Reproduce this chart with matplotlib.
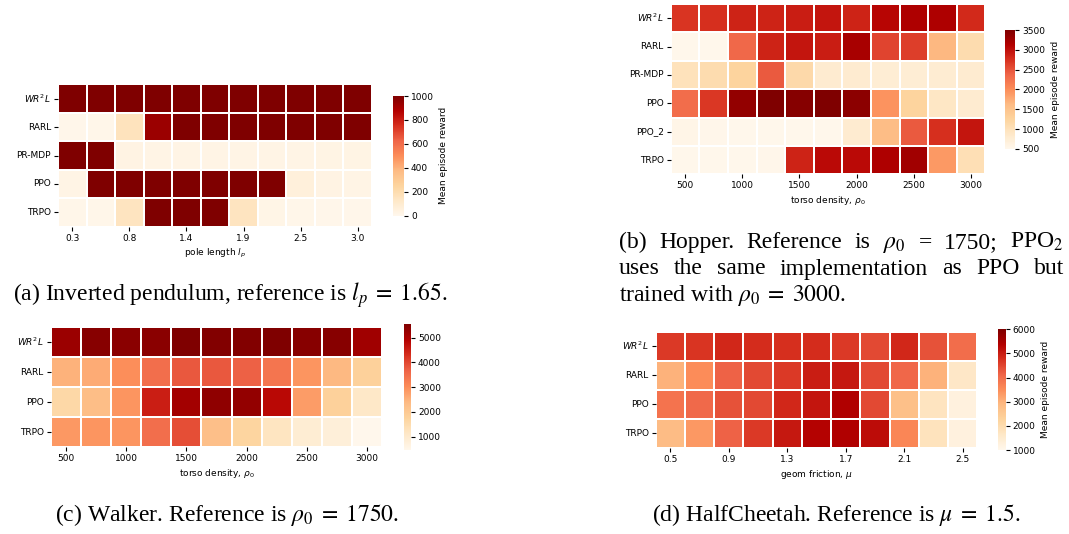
import numpy as np
import matplotlib
matplotlib.use("Agg")
import matplotlib.pyplot as plt
import seaborn as sns

# ---------------- data ----------------
row_labels_a = ["$WR^2L$", "RARL", "PR-MDP", "PPO", "TRPO"]
pole_length_ticks = ["0.3", "0.8", "1.4", "1.9", "2.5", "3.0"]
wr2l_a = [1000, 1000, 1000, 1000, 1000, 1000, 1000, 1000, 1000, 1000, 1000]
rarl_a = [10, 15, 160, 930, 1000, 1000, 1000, 1000, 1000, 1000, 1000]
prmdp_a = [1000, 1000, 35, 25, 25, 25, 25, 25, 25, 30, 30]
ppo_a = [25, 1000, 1000, 1000, 1000, 1000, 1000, 1000, 60, 35, 25]
trpo_a = [15, 15, 150, 1000, 1000, 1000, 150, 20, 15, 10, 10]

row_labels_b = ["$WR^2L$", "RARL", "PR-MDP", "PPO", "PPO_2", "TRPO"]
density_ticks = ["500", "1000", "1500", "2000", "2500", "3000"]
wr2l_b = [2720, 2750, 2850, 2850, 2900, 2950, 2850, 3080, 3150, 3150, 2800]
rarl_b = [520, 520, 2350, 2850, 2950, 2900, 3200, 2600, 2650, 1650, 1100]
prmdp_b = [1000, 1100, 1250, 2450, 1150, 800, 800, 750, 750, 780, 800]
ppo_b = [2300, 2700, 3350, 3500, 3450, 3500, 3400, 1950, 1250, 900, 800]
ppo2_b = [550, 530, 520, 520, 520, 520, 800, 1600, 2450, 2750, 2950]
trpo_b = [520, 520, 520, 530, 2850, 3050, 3050, 3150, 3250, 1900, 1050]

row_labels_c = ["$WR^2L$", "RARL", "PPO", "TRPO"]
wr2l_c = [5200, 5450, 5400, 5400, 5550, 5500, 5500, 5550, 5450, 5450, 5150]
rarl_c = [2500, 2600, 3000, 3500, 3800, 3800, 3700, 3400, 2900, 2400, 1800]
ppo_c = [1600, 2300, 2900, 4500, 5100, 5350, 5300, 4800, 2800, 1800, 1100]
trpo_c = [2850, 2900, 2900, 3500, 3900, 2250, 1700, 1200, 900, 800, 460]

row_labels_d = ["$WR^2L$", "RARL", "PPO", "TRPO"]
friction_ticks = ["0.5", "0.9", "1.3", "1.7", "2.1", "2.5"]
wr2l_d = [4650, 4700, 4850, 4800, 4750, 4800, 4650, 4450, 4850, 4350, 4000]
rarl_d = [3000, 3500, 4150, 4450, 4650, 5000, 5050, 4450, 4100, 3000, 1650]
ppo_d = [3900, 4050, 4350, 4450, 4850, 5100, 5400, 4450, 2750, 1750, 1250]
trpo_d = [2850, 3350, 4150, 4650, 5050, 5350, 5400, 5200, 3600, 1800, 1250]

# ---------------- figure ----------------
W, H = 1069, 534
fig = plt.figure(figsize=(W / 100, H / 100), dpi=100)

TICK_FS = 6.5
CAP_FS = 17


def box(x0, x1, y0, y1):
    """Pixel box (left, right, top, bottom) -> figure fraction rect."""
    return [x0 / W, 1 - y1 / H, (x1 - x0) / W, (y1 - y0) / H]


def panel(data, rows, xticks, xlabel, hm_box, cb_box, vmin=None, vmax=None,
          cbar_label="Mean episode reward"):
    ax = fig.add_axes(box(*hm_box))
    cax = fig.add_axes(box(*cb_box))
    sns.heatmap(np.array(data, dtype=float), ax=ax, cbar_ax=cax, cmap="OrRd",
                vmin=vmin, vmax=vmax, linewidths=1.3, linecolor="white",
                yticklabels=rows)
    ncol = len(data[0])
    ax.set_xticks(np.arange(0, ncol, 2) + 0.5)
    ax.set_xticklabels(xticks, rotation=0, fontsize=TICK_FS)
    ax.set_yticklabels(rows, rotation=0, fontsize=TICK_FS)
    ax.tick_params(length=3, width=0.8, pad=2)
    ax.set_xlabel(xlabel, fontsize=TICK_FS, labelpad=3)
    cax.tick_params(labelsize=TICK_FS, length=3, width=0.8, pad=2)
    if cbar_label:
        cax.set_ylabel(cbar_label, fontsize=TICK_FS, labelpad=4)
    return ax


panel([wr2l_a, rarl_a, prmdp_a, ppo_a, trpo_a], row_labels_a, pole_length_ticks,
      "pole length $l_p$", (58, 372, 84.3, 226.7), (393, 404, 96, 215.7),
      vmin=0, vmax=1000)
panel([wr2l_b, rarl_b, prmdp_b, ppo_b, ppo2_b, trpo_b], row_labels_b, density_ticks,
      r"torso density, $\rho_0$", (670.7, 985.3, 4, 174.3), (1005, 1015, 30, 149),
      vmin=500, vmax=3500)
panel([wr2l_c, rarl_c, ppo_c, trpo_c], row_labels_c, density_ticks,
      r"torso density, $\rho_0$", (50.7, 382.3, 327.3, 447.3), (404, 411, 324, 450),
      cbar_label=None)
panel([wr2l_d, rarl_d, ppo_d, trpo_d], row_labels_d, friction_ticks,
      r"geom friction, $\mu$", (655.7, 977.3, 331.7, 447.7), (997.7, 1005.7, 329.3, 450),
      vmin=1000, vmax=6000)

# ---------------- captions ----------------
cap_kw = dict(fontsize=CAP_FS, family="Liberation Serif", math_fontfamily="stix",
              va="baseline")


def justified(words, x0, x1, y):
    texts = [fig.text(0, 1 - y / H, w, ha="left", **cap_kw) for w in words]
    renderer = fig.canvas.get_renderer()
    widths = [t.get_window_extent(renderer).width for t in texts]
    gap = (x1 - x0 - sum(widths)) / (len(words) - 1)
    x = x0
    for t, w in zip(texts, widths):
        t.set_x(x / W)
        x += w + gap


fig.text(230 / W, 1 - 301 / H, r"(a) Inverted pendulum, reference is $l_p\;=\;1.65$.",
         ha="center", **cap_kw)
justified(["(b)", "Hopper.", "Reference", "is", r"$\rho_0$", "=", "1750;", "PPO$_2$"],
          619, 1064, 248)
justified(["uses", "the", "same", "implementation", "as", "PPO", "but"], 619, 1064, 274.5)
fig.text(619 / W, 1 - 301 / H, r"trained with $\rho_0\;=\;3000$.", ha="left", **cap_kw)
fig.text(227 / W, 1 - 521 / H, r"(c) Walker. Reference is $\rho_0\;=\;1750$.",
         ha="center", **cap_kw)
fig.text(836 / W, 1 - 521 / H, r"(d) HalfCheetah. Reference is $\mu\;=\;1.5$.",
         ha="center", **cap_kw)

fig.savefig("out.png", dpi=100)
